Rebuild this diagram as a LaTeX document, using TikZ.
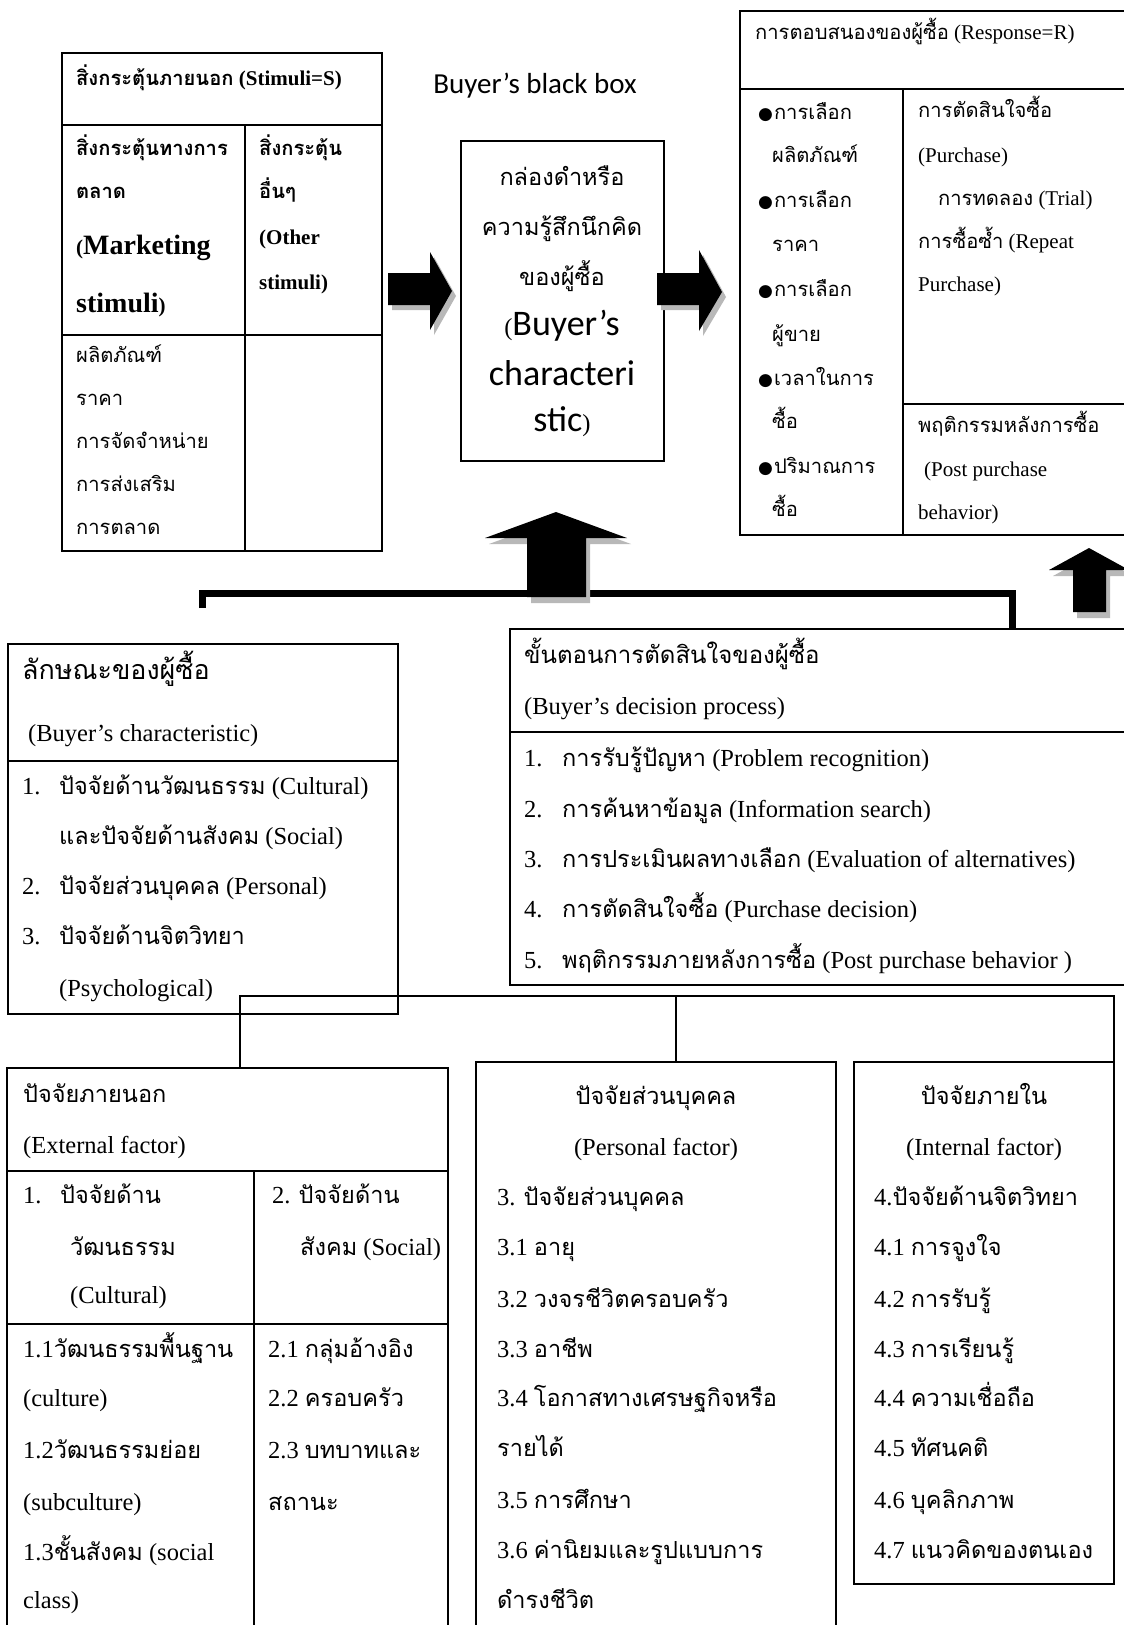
\documentclass[tikz,border=0pt]{standalone}
\usepackage{fontspec}
\setmainfont{Liberation Serif}
\newfontfamily\thai[Script=Thai,Scale=0.96]{Loma}
\newfontfamily\calib{Carlito}
\newfontfamily\djv{DejaVu Sans}
\newcommand\T[1]{{\thai #1}}
\newcommand\sza{\fontsize{21}{25}\selectfont}
\newcommand\szb{\fontsize{24.5}{30}\selectfont}
\newcommand\bul{{\djv\fontsize{17}{17}\selectfont ●}\kern1pt}
\tikzset{
  box/.style={draw, line width=2.4pt, inner sep=0pt, outer sep=0pt, anchor=north west},
  lbox/.style={draw, line width=1.8pt, inner sep=0pt, outer sep=0pt, anchor=north west},
  rule/.style={line width=2.4pt},
  lrule/.style={line width=1.8pt},
  twa/.style={anchor=west, inner sep=0pt, text height=15pt, text depth=5pt, font=\sza},
  twb/.style={anchor=west, inner sep=0pt, text height=18pt, text depth=6pt, font=\szb},
  tcb/.style={anchor=center, inner sep=0pt, text height=18pt, text depth=6pt, font=\szb},
  bigarrow/.style={fill=black},
  arrowshadow/.style={fill=black!28},
  thick connector/.style={line width=7pt, line cap=butt, line join=miter},
  thin connector/.style={line width=1.8pt, line join=miter}
}
\begin{document}
\begin{tikzpicture}[x=1pt,y=-1pt]
\useasboundingbox (0,0) rectangle (1124,1625);
\clip (0,0) rectangle (1124,1625);
\fill[white] (0,0) rectangle (1124,1625);

% ---------- Stimuli box ----------
\node[box, minimum width=320pt, minimum height=498pt] (stim) at (62,53) {};
\draw[rule] (62,125) -- (382,125);
\draw[rule] (62,335) -- (382,335);
\draw[rule] (245,125) -- (245,551);
\node[twa, font=\sza\bfseries] (s0) at (76,80) {\T{สิ่งกระตุ้นภายนอก} (Stimuli=S)};
\node[twa, font=\sza\bfseries] (s1) at (76,150) {\T{สิ่งกระตุ้นทางการ}};
\node[twa, font=\sza\bfseries] (s2) at (76,193) {\T{ตลาด}};
\node[twa, font=\fontsize{28}{30}\selectfont\bfseries] (s3) at (76,249) {{\sza(}Marketing};
\node[twa, font=\fontsize{28}{30}\selectfont\bfseries] (s4) at (76,307) {stimuli{\sza)}};
\node[twa, font=\sza\bfseries] (s5) at (259,150) {\T{สิ่งกระตุ้น}};
\node[twa, font=\sza\bfseries] (s6) at (259,193) {\T{อื่นๆ}};
\node[twa, font=\sza\bfseries] (s7) at (259,239) {(Other};
\node[twa, font=\sza\bfseries] (s8) at (259,284) {stimuli)};
\node[twa] (s9) at (76,357) {\T{ผลิตภัณฑ์}};
\node[twa] (s10) at (76,400) {\T{ราคา}};
\node[twa] (s11) at (76,443) {\T{การจัดจำหน่าย}};
\node[twa] (s12) at (76,486) {\T{การส่งเสริม}};
\node[twa] (s13) at (76,529) {\T{การตลาด}};

% ---------- Black box ----------
\node[anchor=center, inner sep=0pt, font=\calib\fontsize{29}{30}\selectfont] (bbl) at (535,86) {Buyer’s black box};
\node[lbox, minimum width=203pt, minimum height=320pt] (bb) at (461,141) {};
\node[tcb, font=\fontsize{24.5}{30}\selectfont] (b1) at (562,179) {\T{กล่องดำหรือ}};
\node[tcb, font=\fontsize{24.5}{30}\selectfont] (b2) at (562,229) {\T{ความรู้สึกนึกคิด}};
\node[tcb, font=\fontsize{24.5}{30}\selectfont] (b3) at (562,279) {\T{ของผู้ซื้อ}};
\node[tcb, font=\calib\fontsize{36}{40}\selectfont] (b4) at (562,329) {{\rmfamily\szb(}Buyer’s};
\node[tcb, font=\calib\fontsize{36}{40}\selectfont] (b5) at (562,379) {characteri};
\node[tcb, font=\calib\fontsize{36}{40}\selectfont] (b6) at (562,425) {stic{\rmfamily\szb)}};

% ---------- Response box ----------
\node[box, minimum width=392pt, minimum height=524pt] (resp) at (740,11) {};
\draw[rule] (740,89) -- (1132,89);
\draw[rule] (903,89) -- (903,535);
\draw[rule] (903,404) -- (1132,404);
\node[twa] (r0) at (755,34) {\T{การตอบสนองของผู้ซื้อ} (Response=R)};
\node[twa] (r1) at (758,114) {\bul\T{การเลือก}};
\node[twa] (r2) at (772,157) {\T{ผลิตภัณฑ์}};
\node[twa] (r3) at (758,202) {\bul\T{การเลือก}};
\node[twa] (r4) at (772,246) {\T{ราคา}};
\node[twa] (r5) at (758,291) {\bul\T{การเลือก}};
\node[twa] (r6) at (772,336) {\T{ผู้ขาย}};
\node[twa] (r7) at (758,380) {\bul\T{เวลาในการ}};
\node[twa] (r8) at (772,423) {\T{ซื้อ}};
\node[twa] (r9) at (758,468) {\bul\T{ปริมาณการ}};
\node[twa] (r10) at (772,511) {\T{ซื้อ}};
\node[twa] (r11) at (918,112) {\T{การตัดสินใจซื้อ}};
\node[twa] (r12) at (918,157) {(Purchase)};
\node[twa] (r13) at (938,200) {\T{การทดลอง} (Trial)};
\node[twa] (r14) at (918,243) {\T{การซื้อซ้ำ} (Repeat};
\node[twa] (r15) at (918,286) {Purchase)};
\node[twa] (r16) at (918,427) {\T{พฤติกรรมหลังการซื้อ}};
\node[twa] (r17) at (924,471) {(Post purchase};
\node[twa] (r18) at (918,514) {behavior)};

% ---------- Big arrows ----------
\fill[arrowshadow, shift={(4,5)}] (388,273) -- (430,273) -- (430,252) -- (452,291) -- (430,330) -- (430,305) -- (388,305) -- cycle;
\fill[bigarrow] (388,273) -- (430,273) -- (430,252) -- (452,291) -- (430,330) -- (430,305) -- (388,305) -- cycle;
\fill[arrowshadow, shift={(4,5)}] (657,273) -- (699,273) -- (699,250) -- (722,292) -- (699,331) -- (699,305) -- (657,305) -- cycle;
\fill[bigarrow] (657,273) -- (699,273) -- (699,250) -- (722,292) -- (699,331) -- (699,305) -- (657,305) -- cycle;
\fill[arrowshadow, shift={(4,6)}] (1073,612) -- (1073,570) -- (1049,570) -- (1089,548) -- (1129,570) -- (1106,570) -- (1106,612) -- cycle;
\fill[bigarrow] (1073,612) -- (1073,570) -- (1049,570) -- (1089,548) -- (1129,570) -- (1106,570) -- (1106,612) -- cycle;

% ---------- Buyer characteristic box ----------
\node[lbox, minimum width=390pt, minimum height=370pt] (bchar) at (8,644) {};
\draw[lrule] (8,761) -- (398,761);
\node[twb, font=\fontsize{28}{32}\selectfont] (c0) at (22,673) {\T{ลักษณะของผู้ซื้อ}};
\node[twb] (c1) at (28,735) {(Buyer’s characteristic)};
\node[twb] (c2) at (22,788) {\makebox[37pt][l]{1.}\T{ปัจจัยด้านวัฒนธรรม} (Cultural)};
\node[twb] (c3) at (59,838) {\T{และปัจจัยด้านสังคม} (Social)};
\node[twb] (c4) at (22,888) {\makebox[37pt][l]{2.}\T{ปัจจัยส่วนบุคคล} (Personal)};
\node[twb] (c5) at (22,938) {\makebox[37pt][l]{3.}\T{ปัจจัยด้านจิตวิทยา}};
\node[twb] (c6) at (59,990) {(Psychological)};

% ---------- Decision process box ----------
\node[lbox, minimum width=622pt, minimum height=356pt] (dproc) at (510,629) {};
\draw[lrule] (510,732) -- (1132,732);
\node[twb, font=\fontsize{25}{30}\selectfont] (d0) at (524,657) {\T{ขั้นตอนการตัดสินใจของผู้ซื้อ}};
\node[twb] (d1) at (524,708) {(Buyer’s decision process)};
\node[twb] (d2) at (524,760) {\makebox[38pt][l]{1.}\T{การรับรู้ปัญหา} (Problem recognition)};
\node[twb] (d3) at (524,811) {\makebox[38pt][l]{2.}\T{การค้นหาข้อมูล} (Information search)};
\node[twb] (d4) at (524,861) {\makebox[38pt][l]{3.}\T{การประเมินผลทางเลือก} (Evaluation of alternatives)};
\node[twb] (d5) at (524,911) {\makebox[38pt][l]{4.}\T{การตัดสินใจซื้อ} (Purchase decision)};
\node[twb] (d6) at (524,962) {\makebox[38pt][l]{5.}\T{พฤติกรรมภายหลังการซื้อ} (Post purchase behavior )};

% ---------- thick connector and central arrow ----------
\coordinate (tl) at (202,608);
\coordinate (tr) at (1012,593);
\draw[thick connector] (tl) |- (tr) -- (tr |- dproc.north);
\fill[arrowshadow, shift={(4,6)}] (527,597) -- (527,538) -- (485,538) -- (556,512) -- (627,538) -- (586,538) -- (586,597) -- cycle;
\fill[bigarrow] (527,597) -- (527,538) -- (485,538) -- (556,512) -- (627,538) -- (586,538) -- (586,597) -- cycle;

% ---------- External factor box ----------
\node[lbox, minimum width=441pt, minimum height=570pt] (ext) at (7,1068) {};
\draw[lrule] (7,1171) -- (448,1171);
\draw[lrule] (7,1324) -- (448,1324);
\draw[lrule] (254,1171) -- (254,1640);
\node[twb] (e0) at (23,1096) {\T{ปัจจัยภายนอก}};
\node[twb] (e1) at (23,1147) {(External factor)};
\node[twb] (e2) at (23,1197) {\makebox[37pt][l]{1.}\T{ปัจจัยด้าน}};
\node[twb] (e3) at (70,1249) {\T{วัฒนธรรม}};
\node[twb] (e4) at (70,1297) {(Cultural)};
\node[twb] (e5) at (272,1197) {2. \T{ปัจจัยด้าน}};
\node[twb] (e6) at (300,1249) {\T{สังคม} (Social)};
\node[twb] (e7) at (23,1351) {1.1\T{วัฒนธรรมพื้นฐาน}};
\node[twb] (e8) at (23,1400) {(culture)};
\node[twb] (e9) at (23,1452) {1.2\T{วัฒนธรรมย่อย}};
\node[twb] (e10) at (23,1504) {(subculture)};
\node[twb] (e11) at (23,1554) {1.3\T{ชั้นสังคม} (social};
\node[twb] (e12) at (23,1602) {class)};
\node[twb] (e13) at (268,1351) {2.1 \T{กลุ่มอ้างอิง}};
\node[twb] (e14) at (268,1400) {2.2 \T{ครอบครัว}};
\node[twb] (e15) at (268,1452) {2.3 \T{บทบาทและ}};
\node[twb] (e16) at (268,1504) {\T{สถานะ}};

% ---------- Personal factor box ----------
\node[lbox, minimum width=360pt, minimum height=580pt] (pers) at (476,1062) {};
\node[tcb] (p0) at (656,1098) {\T{ปัจจัยส่วนบุคคล}};
\node[tcb] (p1) at (656,1149) {(Personal factor)};
\node[twb] (p2) at (497,1199) {3. \T{ปัจจัยส่วนบุคคล}};
\node[twb] (p3) at (497,1249) {3.1 \T{อายุ}};
\node[twb] (p4) at (497,1301) {3.2 \T{วงจรชีวิตครอบครัว}};
\node[twb] (p5) at (497,1351) {3.3 \T{อาชีพ}};
\node[twb] (p6) at (497,1400) {3.4 \T{โอกาสทางเศรษฐกิจหรือ}};
\node[twb] (p7) at (497,1450) {\T{รายได้}};
\node[twb] (p8) at (497,1502) {3.5 \T{การศึกษา}};
\node[twb] (p9) at (497,1552) {3.6 \T{ค่านิยมและรูปแบบการ}};
\node[twb] (p10) at (497,1602) {\T{ดำรงชีวิต}};

% ---------- Internal factor box ----------
\node[lbox, minimum width=260pt, minimum height=522pt] (intl) at (854,1062) {};
\node[tcb] (i0) at (984,1098) {\T{ปัจจัยภายใน}};
\node[tcb] (i1) at (984,1149) {(Internal factor)};
\node[twb] (i2) at (874,1199) {4.\T{ปัจจัยด้านจิตวิทยา}};
\node[twb] (i3) at (874,1249) {4.1 \T{การจูงใจ}};
\node[twb] (i4) at (874,1301) {4.2 \T{การรับรู้}};
\node[twb] (i5) at (874,1351) {4.3 \T{การเรียนรู้}};
\node[twb] (i6) at (874,1400) {4.4 \T{ความเชื่อถือ}};
\node[twb] (i7) at (874,1450) {4.5 \T{ทัศนคติ}};
\node[twb] (i8) at (874,1502) {4.6 \T{บุคลิกภาพ}};
\node[twb] (i9) at (874,1552) {4.7 \T{แนวคิดของตนเอง}};

% ---------- thin connectors ----------
\coordinate (j) at (240,996);
\coordinate (jp) at (676,996);
\draw[thin connector] (ext.north -| j) -- (j) -- (j -| intl.north east) -- (intl.north east);
\draw[thin connector] (jp) -- (jp |- pers.north);
\end{tikzpicture}
\end{document}
